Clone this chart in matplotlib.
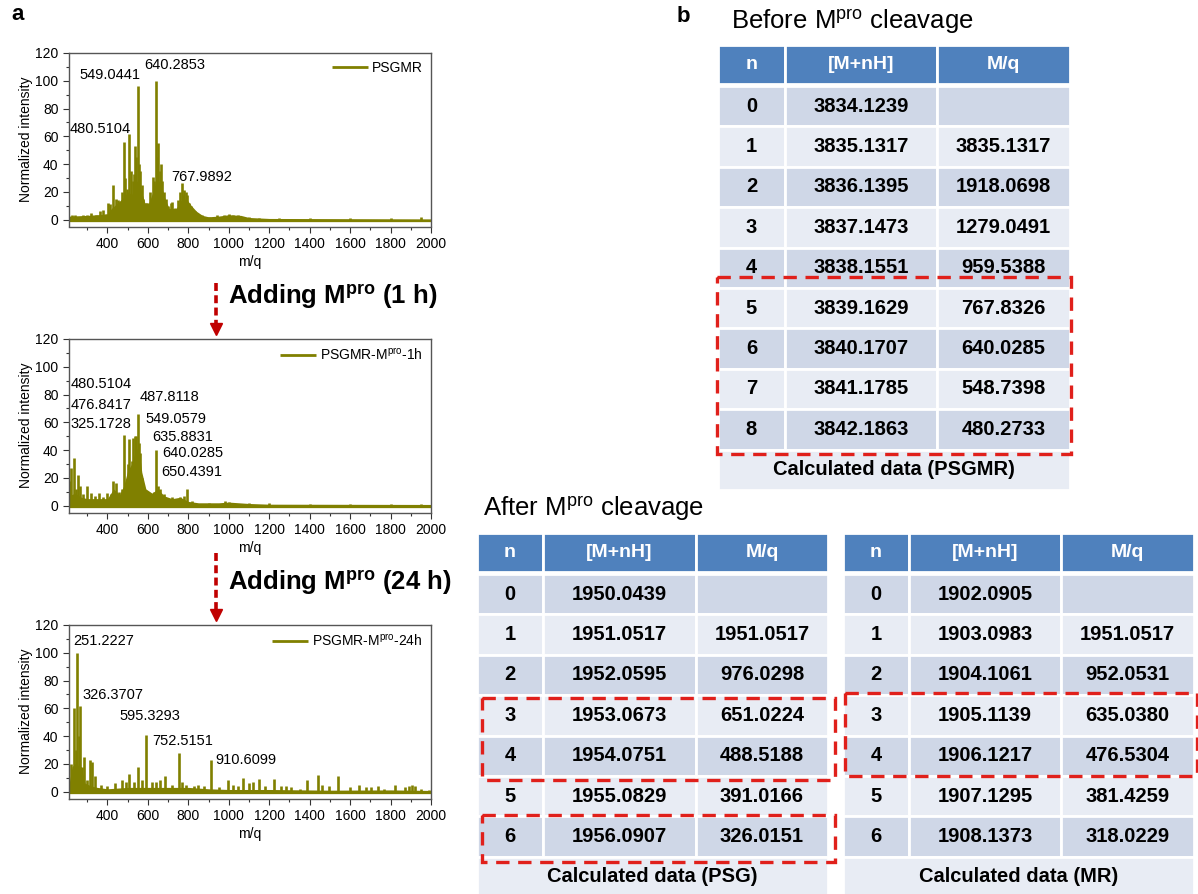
import numpy as np
import matplotlib.pyplot as plt
from matplotlib.patches import Rectangle

plt.rcParams['font.family'] = 'Liberation Sans'
plt.rcParams['mathtext.fontset'] = 'custom'
plt.rcParams['mathtext.rm'] = 'Liberation Sans'
plt.rcParams['mathtext.bf'] = 'Liberation Sans:bold'
plt.rcParams['mathtext.it'] = 'Liberation Sans:italic'

# ---------------- spectra (peak m/q, normalized intensity) ----------------
mz1 = [225, 240, 262, 280, 300, 320, 345, 362, 378, 392, 405, 415, 430, 440, 452,
       462, 470, 480, 488, 495, 507, 515, 524, 530, 537, 543, 549, 556, 562, 570,
       578, 590, 600, 612, 624, 632, 640, 646, 652, 658, 664, 672, 680, 690, 700,
       712, 720, 735, 750, 760, 767, 774, 780, 788, 795, 803, 812, 822, 835, 850,
       870, 900, 940, 975, 1000, 1020, 1045, 1070, 1100, 1150, 1250, 1400, 1600, 1800, 1950]
h1 = [3, 3, 2, 3, 3, 5, 3, 6, 7, 4, 12, 11, 25, 15, 14,
      12, 20, 56, 30, 22, 62, 35, 28, 33, 53, 45, 96, 40, 35, 25,
      15, 12, 10, 20, 31, 28, 100, 45, 55, 35, 40, 28, 20, 15, 10,
      12, 13, 8, 14, 20, 26, 18, 21, 20, 18, 12, 10, 7, 6, 4,
      3, 2, 3, 3, 4, 3, 3, 2, 2, 1, 1, 1, 1, 1, 1.5]
env1_mz = [210, 300, 400, 420, 450, 480, 500, 520, 545, 565, 585, 605, 625, 645, 665,
           685, 705, 740, 765, 790, 815, 840, 870, 900, 950, 1000, 1060, 1100, 1200, 2000]
env1_h = [2.5, 3, 4, 8, 12, 16, 20, 18, 28, 22, 12, 12, 20, 30, 25,
          15, 8, 8, 14, 15, 10, 6, 3, 2, 2.5, 3.5, 3, 1.5, 0.8, 0.5]

mz2 = [214, 222, 235, 243, 254, 265, 280, 301, 320, 340, 360, 380, 400, 420, 430,
       440, 455, 470, 480, 490, 500, 509, 520, 528, 535, 540, 549, 556, 562, 570,
       590, 610, 630, 639, 650, 660, 680, 700, 720, 760, 780, 795, 820, 900, 980,
       1000, 1100, 1200, 1400, 1600, 1800, 1950]
h2 = [18, 27, 34, 12, 22, 14, 8, 14, 9, 7, 9, 6, 9, 8, 18,
      16, 10, 12, 51, 15, 30, 48, 32, 49, 50, 50, 66, 45, 38, 20,
      10, 8, 10, 40, 14, 12, 8, 5, 6, 6, 7, 12, 3, 2, 3,
      2.5, 1.5, 1.5, 1, 1, 1, 1]
env2_mz = [210, 240, 270, 300, 400, 430, 460, 480, 500, 520, 540, 555, 570, 590, 620,
           650, 680, 720, 760, 800, 850, 950, 1000, 1100, 1200, 2000]
env2_h = [7, 9, 6, 5, 5, 12, 8, 14, 25, 30, 40, 42, 24, 12, 9,
          12, 7, 5, 6, 3, 2, 2, 2.5, 1.5, 1, 0.8]

mz3 = [218, 228, 235, 245, 251, 257, 263, 272, 283, 298, 312, 325, 341, 370, 400,
       435, 470, 490, 507, 530, 552, 570, 593, 620, 640, 660, 687, 720, 753, 770,
       790, 830, 850, 880, 910, 950, 994, 1020, 1045, 1068, 1100, 1120, 1150, 1180, 1225,
       1260, 1285, 1310, 1350, 1385, 1442, 1460, 1495, 1541, 1600, 1645, 1680, 1705, 1740, 1770,
       1820, 1870, 1890, 1905, 1920, 1950, 1990]
h3 = [20, 15, 60, 30, 100, 40, 62, 18, 25, 8, 23, 21, 11, 5, 4,
      6, 8, 7, 13, 7, 18, 8, 41, 7, 7, 8, 11, 5, 28, 7,
      5, 4, 5, 4, 23, 3, 8, 5, 4, 10, 6, 7, 9, 4, 9,
      4, 4, 3, 2, 8, 12, 5, 4, 11, 3, 5, 3, 3, 4, 2,
      5, 3, 4, 5, 4, 2, 1]
env3_mz = [210, 225, 240, 270, 290, 320, 350, 400, 500, 600, 700, 800, 900, 1000, 1200, 1500, 1800, 2000]
env3_h = [5, 18, 20, 18, 6, 4, 3, 2, 3, 3, 3, 3, 2, 1.5, 1.5, 1, 1.2, 0.8]

# peak labels: text, x, y (data units)
labels1 = [('549.0441', 263, 104), ('640.2853', 580, 111), ('480.5104', 213, 65), ('767.9892', 718, 31)]
labels2 = [('480.5104', 218, 87.5), ('476.8417', 218, 72.3), ('325.1728', 218, 58.6),
           ('487.8118', 560, 78), ('549.0579', 590, 62.2), ('635.8831', 624, 49.2),
           ('640.0285', 669, 37.6), ('650.4391', 664, 23.9)]
labels3 = [('251.2227', 230, 108.7), ('326.3707', 279, 69.6), ('595.3293', 461, 54.5),
           ('752.5151', 621, 36.7), ('910.6099', 936, 22.8)]

legend_names = ['PSGMR', r'PSGMR-M$^{\mathrm{pro}}$-1h', r'PSGMR-M$^{\mathrm{pro}}$-24h']

# ---------------- tables ----------------
head = ['n', '[M+nH]', 'M/q']
psgmr_n = ['0', '1', '2', '3', '4', '5', '6', '7', '8']
psgmr_mass = ['3834.1239', '3835.1317', '3836.1395', '3837.1473', '3838.1551',
              '3839.1629', '3840.1707', '3841.1785', '3842.1863']
psgmr_mq = ['', '3835.1317', '1918.0698', '1279.0491', '959.5388',
            '767.8326', '640.0285', '548.7398', '480.2733']
psg_n = ['0', '1', '2', '3', '4', '5', '6']
psg_mass = ['1950.0439', '1951.0517', '1952.0595', '1953.0673', '1954.0751', '1955.0829', '1956.0907']
psg_mq = ['', '1951.0517', '976.0298', '651.0224', '488.5188', '391.0166', '326.0151']
mr_n = ['0', '1', '2', '3', '4', '5', '6']
mr_mass = ['1902.0905', '1903.0983', '1904.1061', '1905.1139', '1906.1217', '1907.1295', '1908.1373']
mr_mq = ['', '1951.0517', '952.0531', '635.0380', '476.5304', '381.4259', '318.0229']

olive = '#808000'
red = '#E0201B'
W, H = 1198, 894

fig = plt.figure(figsize=(W / 100, H / 100), dpi=100)

# overlay in pixel units for tables / arrows / titles
ov = fig.add_axes([0, 0, 1, 1])
ov.set_xlim(0, W)
ov.set_ylim(H, 0)
ov.axis('off')


def spectrum(top_px, mz, h, env_mz, env_h, name, labels):
    ax = fig.add_axes([69 / W, 1 - (top_px + 173.5) / H, 362 / W, 173.5 / H])
    ax.fill_between(env_mz, -1.5, env_h, color=olive, lw=0)
    ax.vlines(mz, 0, h, color=olive, lw=1.9, label=name)
    ax.set_xlim(210, 2000)
    ax.set_ylim(-5, 120)
    ax.set_xticks(np.arange(400, 2001, 200))
    ax.set_xticks(np.arange(300, 2001, 100), minor=True)
    ax.set_yticks(np.arange(0, 121, 20))
    ax.set_yticks(np.arange(0, 121, 10), minor=True)
    ax.tick_params(direction='out', labelsize=10, length=4, width=0.8, colors='#333333', labelcolor='black')
    ax.tick_params(which='minor', length=2.5, width=0.8, colors='#333333')
    for s in ax.spines.values():
        s.set_color('#555555')
        s.set_linewidth(1)
    ax.set_xlabel('m/q', fontsize=10, labelpad=3)
    ax.set_ylabel('Normalized intensity', fontsize=10, labelpad=2)
    for t, x, y in labels:
        ax.text(x, y, t, fontsize=10.5, ha='left', va='center')
    leg = ax.legend(loc='upper right', frameon=False, fontsize=10, handlelength=2.6,
                    borderaxespad=0.2, handletextpad=0.3)
    for l in leg.get_lines():
        l.set_linewidth(2)
    return ax


spectrum(53, mz1, h1, env1_mz, env1_h, legend_names[0], labels1)
spectrum(339, mz2, h2, env2_mz, env2_h, legend_names[1], labels2)
spectrum(625, mz3, h3, env3_mz, env3_h, legend_names[2], labels3)

# panel letters
ov.text(11, 15, 'a', fontsize=16, fontweight='bold', va='center')
ov.text(677, 17, 'b', fontsize=16, fontweight='bold', va='center')

# dashed arrows and step texts
for y0, y1, ty, txt in [(283, 326, 297, r'Adding $\mathbf{M}^{\mathbf{pro}}$ (1 h)'),
                        (553, 612, 583, r'Adding $\mathbf{M}^{\mathbf{pro}}$ (24 h)')]:
    ov.plot([216, 216], [y0, y1], color='#C00000', lw=2.6, ls=(0, (2.2, 1.2)))
    ov.plot(216, y1 + 3, marker='v', ms=8, color='#C00000', mec='#C00000')
    ov.text(228, ty, txt, fontsize=18.5, fontweight='bold', va='center')

dark = '#CFD7E7'
light = '#E8ECF4'
blue = '#4F81BD'


def table(xe, top, head_h, row_h, ns, mass, mq, footer):
    for j in range(3):
        ov.add_patch(Rectangle((xe[j], top), xe[j + 1] - xe[j], head_h, fc=blue, ec='white', lw=2))
        ov.text((xe[j] + xe[j + 1]) / 2, top + head_h / 2, head[j], color='white',
                fontsize=14, fontweight='bold', ha='center', va='center')
    y = top + head_h + 2
    for i in range(len(ns)):
        fc = dark if i % 2 == 0 else light
        for j, v in enumerate([ns[i], mass[i], mq[i]]):
            ov.add_patch(Rectangle((xe[j], y), xe[j + 1] - xe[j], row_h, fc=fc, ec='white', lw=2))
            ov.text((xe[j] + xe[j + 1]) / 2, y + row_h / 2, v, fontsize=14.5, fontweight='bold',
                    ha='center', va='center')
        y += row_h
    fc = light if (len(ns) - 1) % 2 == 0 else dark
    ov.add_patch(Rectangle((xe[0], y), xe[3] - xe[0], row_h, fc=fc, ec='white', lw=2))
    ov.text((xe[0] + xe[3]) / 2, y + row_h / 2, footer, fontsize=14.5, fontweight='bold',
            ha='center', va='center')


def box(x0, y0, x1, y1):
    ov.add_patch(Rectangle((x0, y0), x1 - x0, y1 - y0, fill=False, ec=red, lw=2.4,
                           ls=(0, (4, 2.6)), zorder=5))


ov.text(731, 22, r'Before M$^{\mathrm{pro}}$ cleavage', fontsize=18.5, va='center')
table([718, 785, 937, 1070], 45, 39, 40.4, psgmr_n, psgmr_mass, psgmr_mq, 'Calculated data (PSGMR)')
box(717, 277, 1071, 454)

ov.text(483, 509, r'After M$^{\mathrm{pro}}$ cleavage', fontsize=18.5, va='center')
table([477, 543, 696, 828], 533, 39, 40.4, psg_n, psg_mass, psg_mq, 'Calculated data (PSG)')
table([843, 909, 1061, 1194], 533, 39, 40.4, mr_n, mr_mass, mr_mq, 'Calculated data (MR)')
box(482, 698, 835, 780)
box(482, 815, 835, 862)
box(845, 693, 1197, 776)

fig.savefig('out.png', dpi=100)
